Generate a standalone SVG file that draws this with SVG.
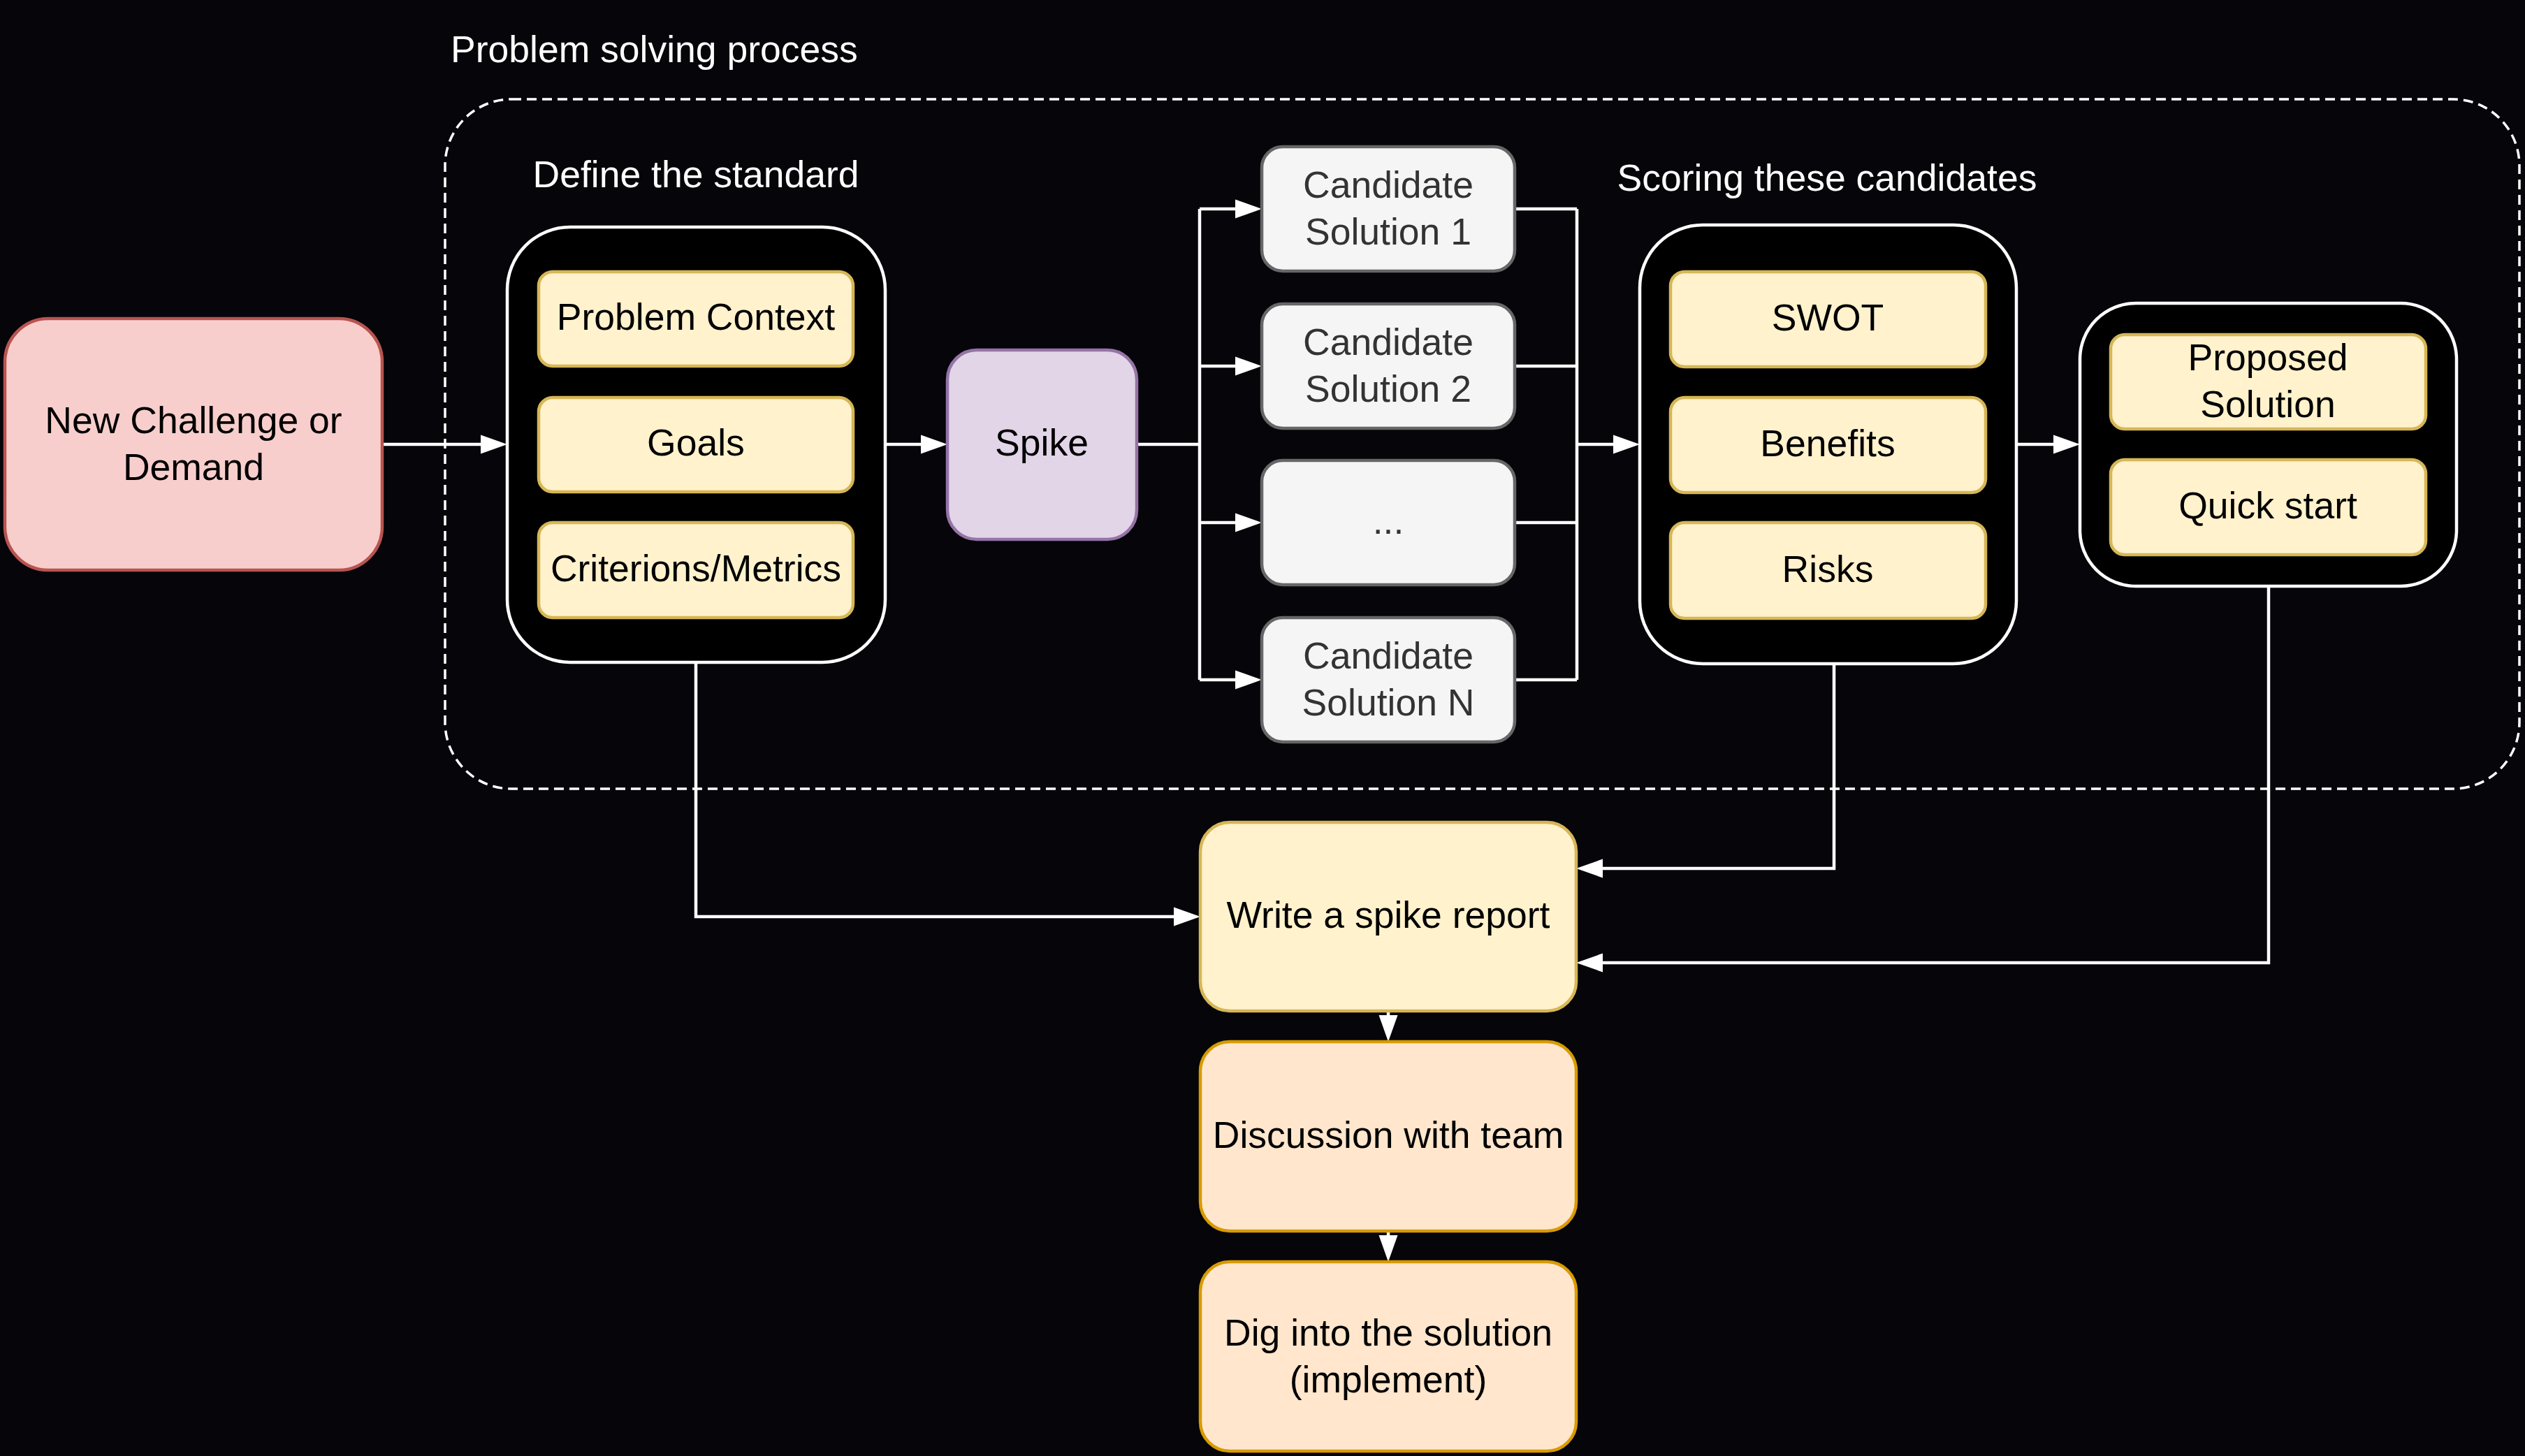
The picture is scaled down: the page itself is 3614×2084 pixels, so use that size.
<svg xmlns="http://www.w3.org/2000/svg" width="3614" height="2084" viewBox="0 0 3614 2084">
<defs>
<marker id="arr" markerUnits="userSpaceOnUse" markerWidth="40" markerHeight="30" refX="0" refY="13.5" orient="auto" overflow="visible">
<path d="M0,0 L38,13.5 L0,27 Z" fill="#ffffff"/>
</marker>
</defs>
<style>
text{font-family:"Liberation Sans",Arial,Helvetica,sans-serif;font-size:53.5px;text-anchor:middle}
.lbl{fill:#ffffff}
.dark{fill:#000000}
.grey{fill:#333333}
.cont{fill:#000000;stroke:#ffffff;stroke-width:4.5}
.yel{fill:#fff2cc;stroke:#d6b656;stroke-width:4.5}
.org{fill:#ffe6cc;stroke:#d79b00;stroke-width:4.5}
.cand{fill:#f5f5f5;stroke:#666666;stroke-width:4.5}
.edge{fill:none;stroke:#ffffff;stroke-width:4.5;marker-end:url(#arr)}
.line{fill:none;stroke:#ffffff;stroke-width:4.5}
</style>
<rect x="0" y="0" width="3614" height="2084" fill="#05050a"/>

<g id="process">
<rect x="637" y="142" width="2969" height="987" rx="95" ry="95" fill="none" stroke="#ffffff" stroke-width="3.5" stroke-dasharray="14 8"/>
<text class="lbl" x="645" y="89" style="text-anchor:start">Problem solving process</text>
</g>

<g id="connectors">
<path class="edge" d="M547,636 H688"/>
<path class="edge" d="M1267,636 H1318"/>
<path class="line" d="M1627,636 H1717 M1717,299 V973"/>
<path class="edge" d="M1717,299 H1768"/>
<path class="edge" d="M1717,524 H1768"/>
<path class="edge" d="M1717,748 H1768"/>
<path class="edge" d="M1717,973 H1768"/>
<path class="line" d="M2168,299 H2257 M2168,524 H2257 M2168,748 H2257 M2168,973 H2257 M2257,299 V973"/>
<path class="edge" d="M2257,636 H2309"/>
<path class="edge" d="M2886,636 H2939"/>
<path class="edge" d="M996,948 V1312 H1680"/>
<path class="edge" d="M2625,950 V1243 H2294"/>
<path class="edge" d="M3247,839 V1378 H2294"/>
<path class="edge" d="M1987,1447 V1453"/>
<path class="edge" d="M1987,1762 V1768"/>
</g>

<g id="new-challenge">
<rect x="7" y="456" width="540" height="360" rx="62" ry="62" fill="#f8cecc" stroke="#b85450" stroke-width="4.5"/>
<text class="dark" x="277" y="620">New Challenge or</text>
<text class="dark" x="277" y="687">Demand</text>
</g>

<g id="define-standard">
<text class="lbl" x="996" y="268">Define the standard</text>
<rect class="cont" x="726" y="325" width="541" height="623" rx="90" ry="90"/>
</g>
<g id="problem-context">
<rect class="yel" x="771" y="389" width="450" height="135" rx="20" ry="20"/>
<text class="dark" x="996" y="472">Problem Context</text>
</g>
<g id="goals">
<rect class="yel" x="771" y="569" width="450" height="135" rx="20" ry="20"/>
<text class="dark" x="996" y="652">Goals</text>
</g>
<g id="criterions">
<rect class="yel" x="771" y="748" width="450" height="136" rx="20" ry="20"/>
<text class="dark" x="996" y="832">Criterions/Metrics</text>
</g>

<g id="spike">
<rect x="1356" y="501" width="271" height="271" rx="42" ry="42" fill="#e1d5e7" stroke="#9673a6" stroke-width="4.5"/>
<text class="dark" x="1491" y="652">Spike</text>
</g>

<g id="candidate-1">
<rect class="cand" x="1806" y="210" width="362" height="178" rx="30" ry="30"/>
<text class="grey" x="1987" y="283">Candidate</text>
<text class="grey" x="1987" y="350">Solution 1</text>
</g>
<g id="candidate-2">
<rect class="cand" x="1806" y="435" width="362" height="178" rx="30" ry="30"/>
<text class="grey" x="1987" y="508">Candidate</text>
<text class="grey" x="1987" y="575">Solution 2</text>
</g>
<g id="candidate-more">
<rect class="cand" x="1806" y="659" width="362" height="178" rx="30" ry="30"/>
<text class="grey" x="1987" y="764">...</text>
</g>
<g id="candidate-n">
<rect class="cand" x="1806" y="884" width="362" height="178" rx="30" ry="30"/>
<text class="grey" x="1987" y="957">Candidate</text>
<text class="grey" x="1987" y="1024">Solution N</text>
</g>

<g id="scoring">
<text class="lbl" x="2615" y="273">Scoring these candidates</text>
<rect class="cont" x="2347" y="322" width="539" height="628" rx="90" ry="90"/>
</g>
<g id="swot">
<rect class="yel" x="2391" y="389" width="451" height="136" rx="20" ry="20"/>
<text class="dark" x="2616" y="473">SWOT</text>
</g>
<g id="benefits">
<rect class="yel" x="2391" y="569" width="451" height="136" rx="20" ry="20"/>
<text class="dark" x="2616" y="653">Benefits</text>
</g>
<g id="risks">
<rect class="yel" x="2391" y="748" width="451" height="137" rx="20" ry="20"/>
<text class="dark" x="2616" y="833">Risks</text>
</g>

<g id="result">
<rect class="cont" x="2977" y="434" width="539" height="405" rx="80" ry="80"/>
</g>
<g id="proposed-solution">
<rect class="yel" x="3021" y="479" width="451" height="135" rx="20" ry="20"/>
<text class="dark" x="3246" y="530">Proposed</text>
<text class="dark" x="3246" y="597">Solution</text>
</g>
<g id="quick-start">
<rect class="yel" x="3021" y="658" width="451" height="136" rx="20" ry="20"/>
<text class="dark" x="3246" y="742">Quick start</text>
</g>

<g id="spike-report">
<rect class="yel" x="1718" y="1177" width="538" height="270" rx="42" ry="42"/>
<text class="dark" x="1987" y="1328">Write a spike report</text>
</g>
<g id="discussion">
<rect class="org" x="1718" y="1491" width="538" height="271" rx="42" ry="42"/>
<text class="dark" x="1987" y="1643">Discussion with team</text>
</g>
<g id="implement">
<rect class="org" x="1718" y="1806" width="538" height="271" rx="42" ry="42"/>
<text class="dark" x="1987" y="1926">Dig into the solution</text>
<text class="dark" x="1987" y="1993">(implement)</text>
</g>
</svg>
